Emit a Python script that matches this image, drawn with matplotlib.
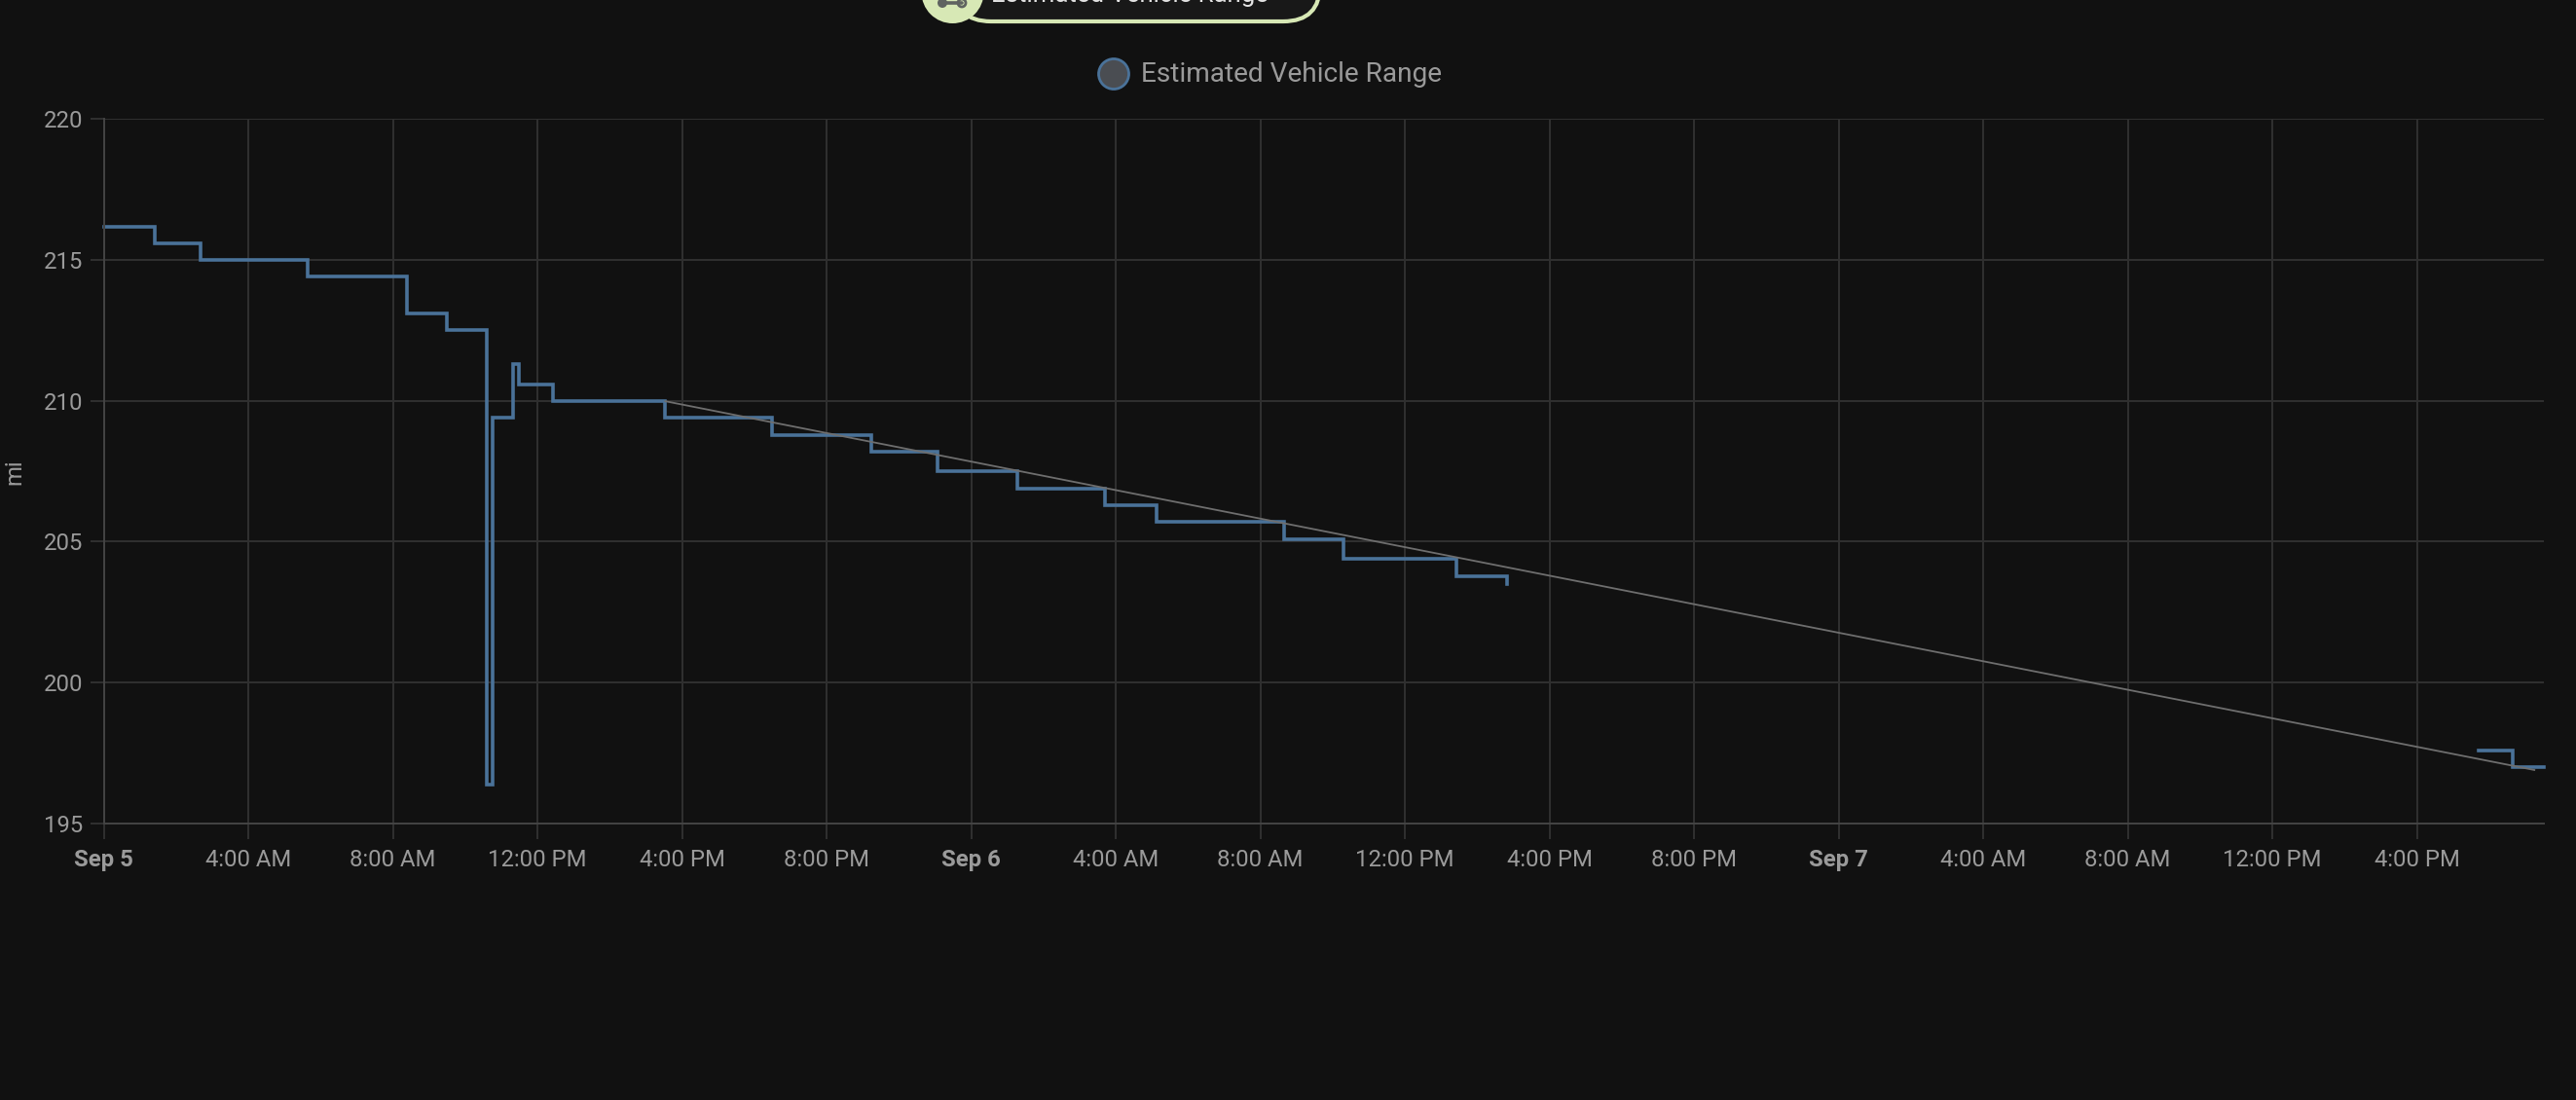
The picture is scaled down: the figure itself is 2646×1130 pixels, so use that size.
import matplotlib
matplotlib.use("Agg")
import matplotlib.pyplot as plt
from matplotlib.patches import Circle, FancyBboxPatch
import numpy as np

W, H = 2646, 1130
BG = "#111111"
BLUE = "#4a7299"
GRID = "#303030"
AXIS = "#444444"
TXT = "#9a9a9a"
PILL = "#d7e8b5"
plt.rcParams["font.family"] = ["Roboto", "DejaVu Sans"]

# hours since Sep 5 00:00, range in miles
seg1_t = [0, 1.41, 2.68, 5.63, 8.39, 9.49, 10.6, 10.77, 11.32, 11.5, 12.42, 15.54, 18.5, 21.24,
          23.07, 25.28, 27.69, 29.14, 32.65, 34.3, 37.43, 38.83]
seg1_v = [216.18, 215.59, 215.0, 214.39, 213.09, 212.49, 196.39, 209.4, 211.29, 210.57, 209.98, 209.4,
          208.79, 208.19, 207.5, 206.88, 206.28, 205.7, 205.07, 204.38, 203.78, 203.5]
seg1_end = 38.83
seg2_t = [65.72, 66.65]
seg2_v = [197.6, 197.0]
seg2_end = 67.5
trend_t = [15.54, 67.25]
trend_v = [209.98, 196.9]
hour_ticks = list(range(0, 68, 4))
hour_labels = ["Sep 5", "4:00 AM", "8:00 AM", "12:00 PM", "4:00 PM", "8:00 PM",
               "Sep 6", "4:00 AM", "8:00 AM", "12:00 PM", "4:00 PM", "8:00 PM",
               "Sep 7", "4:00 AM", "8:00 AM", "12:00 PM", "4:00 PM"]
y_ticks = [195, 200, 205, 210, 215, 220]
legend_label = "Estimated Vehicle Range"

fig = plt.figure(figsize=(W / 100, H / 100), dpi=100, facecolor=BG)
L, R, T, B = 106.5, 2612.5, 122, 846
ax = fig.add_axes([L / W, 1 - B / H, (R - L) / W, (B - T) / H], facecolor=BG)
ax.set_xlim(0, seg2_end)
ax.set_ylim(195, 220)
for s in ("top", "right"):
    ax.spines[s].set_visible(False)
for s in ("left", "bottom"):
    ax.spines[s].set_color(AXIS)
    ax.spines[s].set_linewidth(1.4)
ax.grid(True, color=GRID, linewidth=1.4)
ax.set_axisbelow(True)
ax.set_yticks(y_ticks)
ax.set_xticks(hour_ticks)
ax.set_xticklabels(hour_labels)
ax.tick_params(axis="x", length=11.5, width=1.4, color=GRID, labelcolor=TXT, labelsize=17.2, pad=7)
ax.tick_params(axis="y", length=10, width=1.4, color=GRID, labelcolor=TXT, labelsize=17.2, pad=5)
for lab, t in zip(ax.get_xticklabels(), hour_ticks):
    if t % 24 == 0:
        lab.set_fontweight("bold")
ax.set_ylabel("mi", color=TXT, fontsize=17.2)
ax.yaxis.set_label_coords(15 / W, 1 - 485 / H, transform=fig.transFigure)
ax.yaxis.label.set_va("center")

ax.plot(trend_t, trend_v, color="#6e6e6e", lw=1.3, zorder=3)
ax.step(seg1_t + [seg1_end], seg1_v + [seg1_v[-1]], where="post", color=BLUE, lw=2.6, zorder=2,
        solid_joinstyle="miter", clip_on=False)
ax.step(seg2_t + [seg2_end], seg2_v + [seg2_v[-1]], where="post", color=BLUE, lw=2.6, zorder=2,
        solid_joinstyle="miter", clip_on=False)

# overlay in pixel coordinates (origin top-left)
ov = fig.add_axes([0, 0, 1, 1], facecolor="none")
ov.set_xlim(0, W)
ov.set_ylim(H, 0)
ov.axis("off")
ov.add_patch(Circle((1144, 76), 15.5, facecolor="#4a4d52", edgecolor=BLUE, lw=2))
ov.text(1172.5, 76.5, legend_label, color=TXT, fontsize=20.2, va="center", ha="left")

ov.add_patch(FancyBboxPatch((980, -60), 376, 82, boxstyle="round,pad=0,rounding_size=38",
                            facecolor="#181818", edgecolor=PILL, lw=3))
ov.add_patch(Circle((978.5, -8), 32, facecolor=PILL, edgecolor="none"))
ov.plot([968, 988], [3, 3], color="#5f6360", lw=2.6, solid_capstyle="round")
ov.add_patch(Circle((968, 3), 5, facecolor="#5f6360", edgecolor="none"))
ov.add_patch(Circle((988, 3), 4, facecolor=PILL, edgecolor="#5f6360", lw=2))
ov.text(1018, -5, legend_label, color="#e4e4e4", fontsize=18.5, va="center", ha="left")

fig.savefig("out.png", dpi=100, facecolor=BG)
